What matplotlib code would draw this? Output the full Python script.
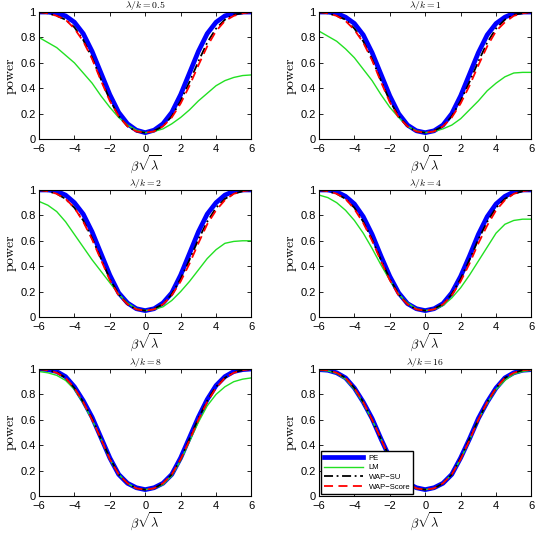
import matplotlib
matplotlib.use("Agg")
import matplotlib.pyplot as plt

plt.rcParams['mathtext.fontset'] = 'cm'
plt.rcParams['font.family'] = ['Liberation Sans', 'DejaVu Sans']

# beta*sqrt(lambda) grid
x = [-6, -5.5, -5, -4.5, -4, -3.5, -3, -2.5, -2, -1.5, -1, -0.5, 0,
     0.5, 1, 1.5, 2, 2.5, 3, 3.5, 4, 4.5, 5, 5.5, 6]

titles = ["0.5", "1", "2", "4", "8", "16"]

# lambda/k = 0.5
pe_1 = [1.00,1.00,0.99,0.97,0.92,0.83,0.69,0.52,0.35,0.21,0.12,0.07,0.05,0.07,0.12,0.21,0.35,0.52,0.69,0.83,0.92,0.97,0.99,1.00,1.00]
lm_1 = [0.80,0.76,0.72,0.66,0.60,0.52,0.44,0.34,0.25,0.17,0.11,0.07,0.05,0.06,0.08,0.12,0.17,0.23,0.30,0.36,0.42,0.46,0.485,0.50,0.505]
su_1 = [1.00,0.99,0.97,0.94,0.88,0.78,0.64,0.47,0.31,0.18,0.10,0.06,0.05,0.065,0.10,0.18,0.30,0.45,0.61,0.76,0.87,0.94,0.98,0.99,1.00]
sc_1 = [1.00,0.99,0.97,0.94,0.87,0.77,0.63,0.46,0.30,0.18,0.10,0.06,0.05,0.06,0.10,0.17,0.28,0.42,0.58,0.73,0.85,0.93,0.97,0.99,1.00]

# lambda/k = 1
pe_2 = [1.00,1.00,0.99,0.96,0.91,0.82,0.68,0.51,0.34,0.20,0.11,0.065,0.05,0.065,0.11,0.20,0.34,0.51,0.68,0.82,0.91,0.96,0.99,1.00,1.00]
lm_2 = [0.85,0.81,0.77,0.71,0.64,0.55,0.46,0.35,0.25,0.17,0.10,0.065,0.05,0.06,0.08,0.11,0.16,0.23,0.30,0.38,0.44,0.49,0.52,0.525,0.525]
su_2 = [1.00,0.99,0.97,0.94,0.87,0.77,0.63,0.46,0.30,0.18,0.10,0.06,0.05,0.065,0.10,0.18,0.30,0.45,0.61,0.76,0.87,0.94,0.98,0.99,1.00]
sc_2 = [1.00,0.99,0.97,0.93,0.86,0.76,0.62,0.45,0.29,0.17,0.10,0.06,0.05,0.06,0.10,0.17,0.28,0.42,0.58,0.73,0.85,0.92,0.97,0.99,1.00]

# lambda/k = 2
pe_3 = [1.00,1.00,0.99,0.96,0.90,0.81,0.67,0.50,0.33,0.19,0.11,0.065,0.05,0.065,0.11,0.19,0.33,0.50,0.67,0.81,0.90,0.96,0.99,1.00,1.00]
lm_3 = [0.91,0.88,0.83,0.75,0.65,0.55,0.45,0.36,0.27,0.18,0.11,0.065,0.05,0.06,0.08,0.13,0.20,0.28,0.37,0.46,0.53,0.58,0.595,0.60,0.60]
su_3 = [1.00,0.99,0.97,0.93,0.86,0.76,0.62,0.46,0.30,0.18,0.10,0.06,0.05,0.065,0.10,0.18,0.30,0.45,0.61,0.75,0.86,0.93,0.97,0.99,1.00]
sc_3 = [1.00,0.99,0.97,0.93,0.86,0.75,0.61,0.45,0.29,0.17,0.10,0.06,0.05,0.06,0.10,0.17,0.28,0.42,0.58,0.73,0.84,0.92,0.97,0.99,1.00]

# lambda/k = 4
pe_4 = [1.00,1.00,0.985,0.95,0.89,0.79,0.65,0.48,0.32,0.19,0.105,0.065,0.05,0.065,0.105,0.19,0.32,0.48,0.65,0.79,0.89,0.95,0.985,1.00,1.00]
lm_4 = [0.96,0.94,0.90,0.84,0.76,0.66,0.54,0.41,0.29,0.18,0.11,0.065,0.05,0.06,0.09,0.15,0.23,0.33,0.44,0.55,0.66,0.73,0.76,0.77,0.77]
su_4 = [1.00,0.99,0.97,0.93,0.86,0.75,0.61,0.45,0.30,0.18,0.10,0.06,0.05,0.065,0.10,0.18,0.30,0.45,0.61,0.75,0.86,0.93,0.97,0.99,1.00]
sc_4 = [1.00,0.99,0.97,0.93,0.85,0.74,0.60,0.44,0.29,0.17,0.10,0.06,0.05,0.06,0.10,0.17,0.28,0.42,0.58,0.72,0.84,0.92,0.97,0.99,1.00]

# lambda/k = 8
pe_5 = [1.00,0.995,0.98,0.94,0.86,0.75,0.62,0.46,0.30,0.17,0.10,0.065,0.05,0.065,0.10,0.17,0.30,0.46,0.62,0.76,0.87,0.94,0.98,0.995,1.00]
lm_5 = [0.98,0.97,0.95,0.91,0.84,0.73,0.60,0.45,0.29,0.17,0.10,0.06,0.05,0.06,0.09,0.16,0.28,0.43,0.58,0.71,0.80,0.86,0.90,0.92,0.93]
su_5 = [1.00,0.99,0.975,0.93,0.85,0.74,0.61,0.45,0.30,0.17,0.10,0.06,0.05,0.06,0.10,0.17,0.29,0.45,0.61,0.75,0.86,0.93,0.975,0.99,1.00]
sc_5 = [1.00,0.99,0.97,0.93,0.85,0.74,0.60,0.45,0.29,0.17,0.10,0.06,0.05,0.06,0.10,0.17,0.29,0.44,0.60,0.74,0.85,0.93,0.97,0.99,1.00]

# lambda/k = 16
pe_6 = [0.995,0.99,0.97,0.93,0.85,0.74,0.61,0.45,0.30,0.17,0.10,0.065,0.05,0.065,0.10,0.17,0.30,0.45,0.61,0.74,0.85,0.93,0.97,0.99,0.995]
lm_6 = [0.99,0.985,0.965,0.92,0.84,0.73,0.60,0.45,0.29,0.17,0.10,0.06,0.05,0.06,0.10,0.17,0.29,0.44,0.60,0.73,0.84,0.91,0.96,0.98,0.99]
su_6 = [0.995,0.99,0.97,0.93,0.85,0.74,0.60,0.45,0.30,0.17,0.10,0.06,0.05,0.06,0.10,0.17,0.30,0.45,0.60,0.74,0.85,0.93,0.97,0.99,0.995]
sc_6 = [0.995,0.99,0.97,0.93,0.85,0.74,0.60,0.45,0.29,0.17,0.10,0.06,0.05,0.06,0.10,0.17,0.29,0.44,0.60,0.74,0.85,0.93,0.97,0.99,0.995]

pe = [pe_1, pe_2, pe_3, pe_4, pe_5, pe_6]
lm = [lm_1, lm_2, lm_3, lm_4, lm_5, lm_6]
su = [su_1, su_2, su_3, su_4, su_5, su_6]
sc = [sc_1, sc_2, sc_3, sc_4, sc_5, sc_6]

fig = plt.figure(figsize=(5.4, 5.4), dpi=100)

lefts = [0.0722, 0.5907]
bottoms = [0.7425, 0.413, 0.0815]
w, h = 0.3935, 0.2352

for n in range(6):
    ax = fig.add_axes([lefts[n % 2], bottoms[n // 2], w, h])
    ax.plot(x, pe[n], color='#0000ff', lw=3.4, label='PE', solid_joinstyle='round')
    ax.plot(x, lm[n], color='#22e022', lw=1.0, label='LM')
    ax.plot(x, su[n], color='k', lw=1.3, ls=(0, (5, 2, 1, 2)), label='WAP\u2212SU')
    ax.plot(x, sc[n], color='#ff0000', lw=1.3, ls=(0, (5, 3)), label='WAP\u2212Score')
    ax.set_xlim(-6, 6)
    ax.set_ylim(0, 1)
    ax.set_xticks([-6, -4, -2, 0, 2, 4, 6])
    ax.set_xticklabels(['\u22126', '\u22124', '\u22122', '0', '2', '4', '6'])
    ax.set_yticks([0, 0.2, 0.4, 0.6, 0.8, 1])
    ax.set_yticklabels(['0', '0.2', '0.4', '0.6', '0.8', '1'])
    ax.tick_params(which='both', direction='in', top=True, right=True,
                   labelsize=8)
    ax.tick_params(axis='x', pad=3.5)
    ax.tick_params(axis='y', pad=2.5)
    ax.tick_params(which='major', length=3, width=0.6)
    for s in ax.spines.values():
        s.set_linewidth(0.8)
    ax.set_title(r'$\lambda/k = %s$' % titles[n], fontsize=7, pad=0)
    ax.set_ylabel(r'$\mathrm{power}$', fontsize=10, labelpad=1)
    ax.set_xlabel(r'$\beta\sqrt{\lambda}$', fontsize=9, labelpad=0)
    if n == 5:
        ax.legend(loc='lower left', fontsize=5.5, frameon=True, fancybox=False,
                  edgecolor='k', handlelength=5, borderaxespad=0.3,
                  labelspacing=0.3, framealpha=1)

plt.savefig('out.png', dpi=100)
